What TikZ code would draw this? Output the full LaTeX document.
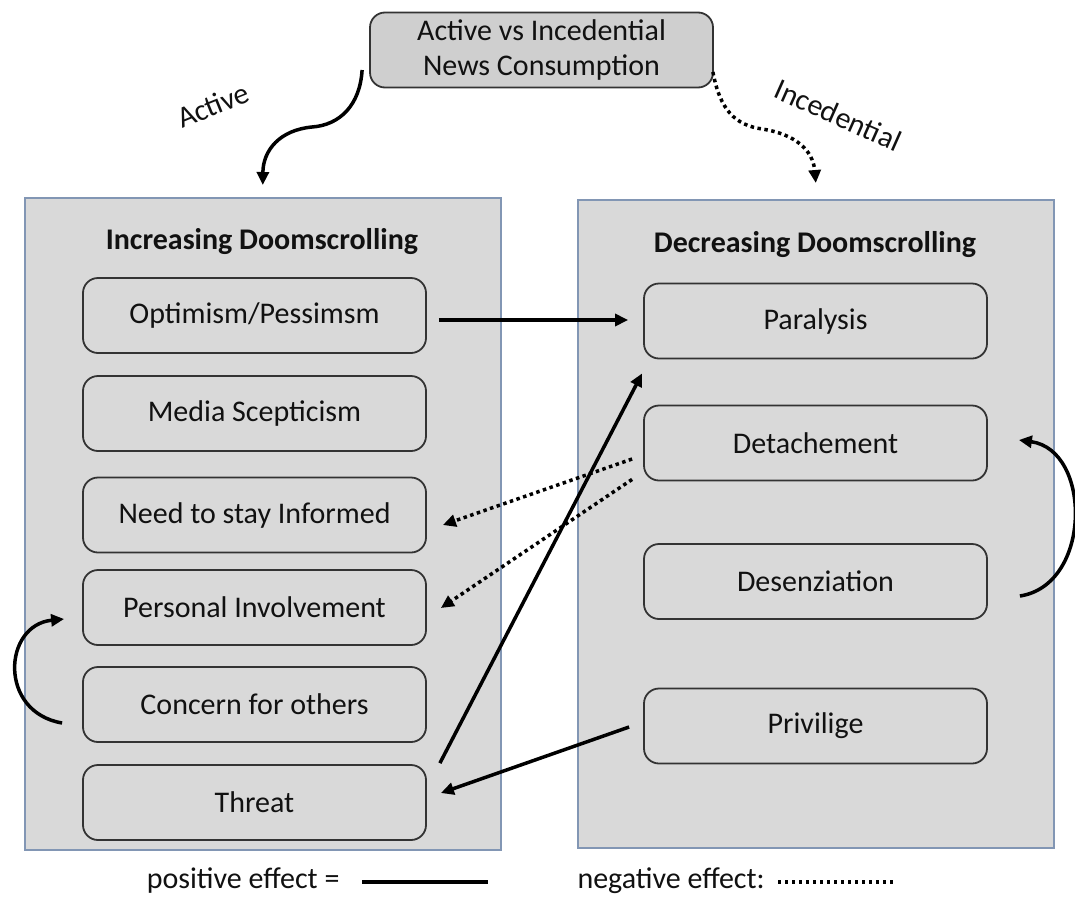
\documentclass[tikz,border=0pt]{standalone}
\usepackage{fontspec}
\setmainfont{Carlito}
\usetikzlibrary{arrows.meta}
\definecolor{panelfill}{HTML}{D9D9D9}
\definecolor{topfill}{HTML}{CFCFCF}
\definecolor{panelborder}{HTML}{8296B4}
\definecolor{boxborder}{HTML}{333333}
\definecolor{txt}{HTML}{111111}
\begin{document}
\begin{tikzpicture}[x=1pt,y=-1pt,
  every node/.style={font=\fontsize{30}{35}\selectfont, text=txt},
  panel/.style={draw=panelborder, line width=1.6pt, fill=panelfill, inner sep=0pt},
  item/.style={draw=boxborder, line width=1.8pt, rounded corners=15pt, minimum width=343pt, minimum height=75pt, inner sep=0pt},
  ttl/.style={font=\bfseries\fontsize{30}{35}\selectfont},
  posarrow/.style={line width=3.5pt, -{Triangle[length=13pt,width=12pt]}},
  negarrow/.style={line width=3.5pt, dash pattern=on 3.5pt off 3.5pt, -{Triangle[length=13pt,width=12pt]}},
]
\useasboundingbox (0,0) rectangle (1075,897);
\fill[white] (0,0) rectangle (1075,897);

% containers
\node[panel, anchor=north west, minimum width=476pt, minimum height=652pt] (L) at (24,197) {};
\node[panel, anchor=north west, minimum width=476pt, minimum height=648pt] (R) at (577,199) {};

\node[ttl] (Lt) at (262,242) {Increasing Doomscrolling};
\node[ttl] (Rt) at (815,245) {Decreasing Doomscrolling};

% top box
\node[item, fill=topfill, align=center] (top) at (541.5,50) {Active vs Incedential\\News Consumption};

% left boxes
\node[item] (opt) at (254.5,315.5) {Optimism/Pessimsm};
\node[item] (med) at (254.5,413.5) {Media Scepticism};
\node[item] (need) at (254.5,515) {Need to stay Informed};
\node[item] (pers) at (254.5,607.5) {Personal Involvement};
\node[item] (conc) at (254.5,704.5) {Concern for others};
\node[item] (thr) at (254.5,802.5) {Threat};

% right boxes
\node[item] (para) at (815.5,321) {Paralysis};
\node[item] (det) at (815.5,443) {Detachement};
\node[item] (des) at (815.5,581.5) {Desenziation};
\node[item] (priv) at (815.5,726) {Privilige};

% labels
\node[rotate=22] (lact) at (213,105) {Active};
\node[rotate=-24] (linc) at (838,115) {Incedential};

% top arrows
\draw[posarrow] ([shift={(-7,20)}]top.west) .. controls (360,105) and (340,125) .. (312,127)
  .. controls (280,130) and (263,150) .. ([shift={(0,-12)}]L.north);
\draw[negarrow] ([shift={(-1,22)}]top.east) .. controls (720,110) and (735,125) .. (762,129)
  .. controls (795,134) and (813,150) .. ([shift={(0,-16)}]R.north);

% cross arrows
\draw[posarrow] ([shift={(12,4.5)}]opt.east) -- ([shift={(-15,-1)}]para.west);
\draw[posarrow] ([shift={(13,-1)}]thr.north east) -- ([shift={(-1,14)}]para.south west);
\draw[negarrow] ([shift={(-11,16)}]det.west) -- ([shift={(16,10)}]need.east);
\draw[negarrow] ([shift={(-11,-2)}]det.south west) -- ([shift={(14,0.5)}]pers.east);
\draw[posarrow] ([shift={(-14,1)}]priv.west) -- ([shift={(14,-9.5)}]thr.east);

% loops
\draw[posarrow] ([shift={(-20,18.5)}]conc.west) .. controls (-2,712) and (3,625) .. ([shift={(-18,11.5)}]pers.west);
\draw[posarrow] ([shift={(32,14.5)}]des.east) .. controls (1092,585) and (1092,450) .. ([shift={(31,-3)}]det.east);

% legend
\node[anchor=east] (lpos) at (343,881) {positive effect =};
\node[anchor=west] (lneg) at (574,881) {negative effect:};
\coordinate (p1) at (362,882);
\coordinate (p2) at (488,882);
\coordinate (n1) at (778,882);
\coordinate (n2) at (893,882);
\draw[line width=4.5pt] (p1) -- (p2);
\draw[line width=3.5pt, dash pattern=on 3pt off 4pt] (n1) -- (n2);
\end{tikzpicture}
\end{document}
